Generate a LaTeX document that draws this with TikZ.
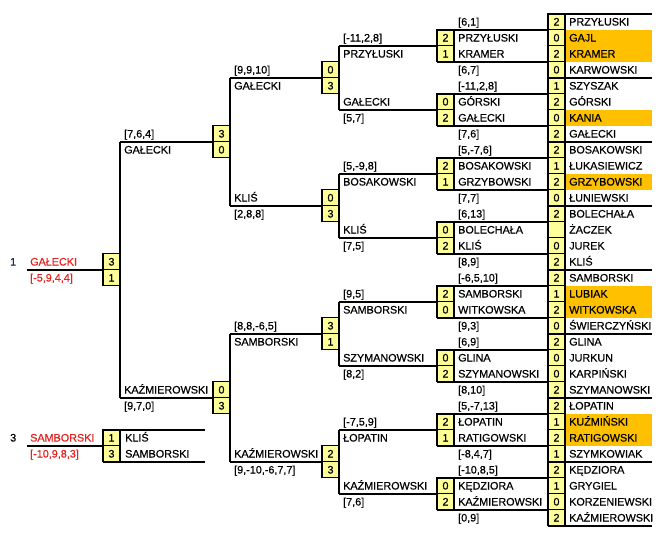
\documentclass[tikz,border=0pt]{standalone}
\usepackage{fontspec}
\setmainfont{Liberation Sans}[FakeBold=0.6]
\newfontfamily\lib{Liberation Sans}[FakeBold=0.6]
\definecolor{boxy}{HTML}{FFFF99}
\definecolor{hl}{HTML}{FFC000}
\definecolor{redt}{HTML}{E52421}
\definecolor{navyt}{HTML}{203060}
\tikzset{
  x=1pt, y=-1pt,
  txt/.style={anchor=west, inner sep=0pt, text height=8pt, text depth=0pt, font=\lib\fontsize{10.8}{12}\selectfont},
  sbox/.style={draw, line width=1.4pt, fill=boxy, minimum width=17pt, minimum height=16pt, inner sep=0pt, text height=8pt, text depth=0pt, font=\lib\fontsize{10.8}{12}\selectfont},
  br/.style={line width=2pt},
}
\begin{document}
\begin{tikzpicture}
\useasboundingbox (0,0) rectangle (661,544);
\fill[white] (0,0) rectangle (661,544);

% orange highlights
\foreach \r in {2,3,7,11,18,19,26,27}
  \fill[hl] (565,{13.5+16*(\r-1)}) rectangle (652,{13.5+16*\r});

% ---------- right column (round 1) ----------
\foreach \s/\n [count=\i] in {2/PRZYŁUSKI,0/GAJL,2/KRAMER,0/KARWOWSKI,1/SZYSZAK,2/GÓRSKI,0/KANIA,2/GAŁECKI,
  2/BOSAKOWSKI,1/ŁUKASIEWICZ,2/GRZYBOWSKI,0/ŁUNIEWSKI,2/BOLECHAŁA,{}/ŻACZEK,0/JUREK,2/KLIŚ,
  2/SAMBORSKI,1/LUBIAK,2/WITKOWSKA,0/ŚWIERCZYŃSKI,2/GLINA,0/JURKUN,0/KARPIŃSKI,2/SZYMANOWSKI,
  2/ŁOPATIN,1/KUŹMIŃSKI,2/RATIGOWSKI,1/SZYMKOWIAK,2/KĘDZIORA,1/GRYGIEL,0/KORZENIEWSKI,2/KAŹMIEROWSKI}{
  \node[sbox] (rb\i) at (556.5,{5.5+16*\i}) {\s};
  \node[txt] (rn\i) at (569,{5.5+16*\i}) {\n};
}

% ---------- C4 (round 2) ----------
\foreach \la/\sa/\na/\sb/\nb/\lb [count=\g from 0] in {
  {[6,1]}/2/PRZYŁUSKI/1/KRAMER/{[6,7]},
  {[-11,2,8]}/0/GÓRSKI/2/GAŁECKI/{[7,6]},
  {[5,-7,6]}/2/BOSAKOWSKI/1/GRZYBOWSKI/{[7,7]},
  {[6,13]}/0/BOLECHAŁA/2/KLIŚ/{[8,9]},
  {[-6,5,10]}/2/SAMBORSKI/0/WITKOWSKA/{[9,3]},
  {[6,9]}/0/GLINA/2/SZYMANOWSKI/{[8,10]},
  {[5,-7,13]}/2/ŁOPATIN/1/RATIGOWSKI/{[-8,4,7]},
  {[-10,8,5]}/0/KĘDZIORA/2/KAŹMIEROWSKI/{[0,9]}}{
  \node[txt] (dl\g) at (458,{5.5+16*(4*\g+1)}) {\la};
  \node[sbox] (dba\g) at (445.5,{5.5+16*(4*\g+2)}) {\sa};
  \node[txt] (dna\g) at (458,{5.5+16*(4*\g+2)}) {\na};
  \node[sbox] (dbb\g) at (445.5,{5.5+16*(4*\g+3)}) {\sb};
  \node[txt] (dnb\g) at (458,{5.5+16*(4*\g+3)}) {\nb};
  \node[txt] (dm\g) at (458,{5.5+16*(4*\g+4)}) {\lb};
  \coordinate (dta\g) at (437,{13.5+16*(4*\g+1)});
  \coordinate (dtb\g) at (548,{13.5+16*(4*\g+1)});
  \coordinate (dua\g) at (437,{13.5+16*(4*\g+3)});
  \coordinate (dub\g) at (548,{13.5+16*(4*\g+3)});
  \coordinate (cl\g) at (339,{13.5+16*(4*\g+2)});
  \coordinate (cr\g) at (437,{13.5+16*(4*\g+2)});
}

% ---------- C3 (quarter-final) texts ----------
\foreach \ta/\tb [count=\g from 0] in {
  {[-11,2,8]}/PRZYŁUSKI, GAŁECKI/{[5,7]}, {[5,-9,8]}/BOSAKOWSKI, KLIŚ/{[7,5]},
  {[9,5]}/SAMBORSKI, SZYMANOWSKI/{[8,2]}, {[-7,5,9]}/ŁOPATIN, KAŹMIEROWSKI/{[7,6]}}{
  \node[txt] (ca\g) at (343,{5.5+16*(4*\g+2)}) {\ta};
  \node[txt] (cb\g) at (343,{5.5+16*(4*\g+3)}) {\tb};
}

% ---------- C2 ----------
\foreach \ta/\sa/\tb/\sb [count=\h from 0] in {
  {[9,9,10]}/0/GAŁECKI/3, KLIŚ/0/{[2,8,8]}/3,
  {[8,8,-6,5]}/3/SAMBORSKI/1, KAŹMIEROWSKI/2/{[9,-10,-6,7,7]}/3}{
  \node[txt] (ba\h) at (234,{5.5+16*(8*\h+4)}) {\ta};
  \node[txt] (bb\h) at (234,{5.5+16*(8*\h+5)}) {\tb};
  \node[sbox] (bxa\h) at (330.5,{5.5+16*(8*\h+4)}) {\sa};
  \node[sbox] (bxb\h) at (330.5,{5.5+16*(8*\h+5)}) {\sb};
  \coordinate (bl\h) at (230,{13.5+16*(8*\h+4)});
  \coordinate (br\h) at (322,{13.5+16*(8*\h+4)});
}

% ---------- C1 ----------
\foreach \ta/\sa/\tb/\sb [count=\m from 0] in {
  {[7,6,4]}/3/GAŁECKI/0, KAŹMIEROWSKI/0/{[9,7,0]}/3}{
  \node[txt] (aa\m) at (124,{5.5+16*(16*\m+8)}) {\ta};
  \node[txt] (ab\m) at (124,{5.5+16*(16*\m+9)}) {\tb};
  \node[sbox] (axa\m) at (221.5,{5.5+16*(16*\m+8)}) {\sa};
  \node[sbox] (axb\m) at (221.5,{5.5+16*(16*\m+9)}) {\sb};
  \coordinate (al\m) at (120,{13.5+16*(16*\m+8)});
  \coordinate (ar\m) at (213,{13.5+16*(16*\m+8)});
}

% ---------- final ----------
\node[txt, text=navyt] (p1) at (10,{5.5+16*16}) {1};
\node[txt, text=redt] (fw) at (30,{5.5+16*16}) {GAŁECKI};
\node[txt, text=redt] (fs) at (30,{5.5+16*17}) {[-5,9,4,4]};
\node[sbox] (fxa) at (111.5,{5.5+16*16}) {3};
\node[sbox] (fxb) at (111.5,{5.5+16*17}) {1};
\coordinate (fl) at (27,{13.5+16*16});
\coordinate (fr) at (103,{13.5+16*16});

% ---------- third place ----------
\node[txt] (p3) at (10,{5.5+16*27}) {3};
\node[txt, text=redt] (tw) at (30,{5.5+16*27}) {SAMBORSKI};
\node[txt, text=redt] (ts) at (30,{5.5+16*28}) {[-10,9,8,3]};
\node[sbox] (txa) at (111.5,{5.5+16*27}) {1};
\node[sbox] (txb) at (111.5,{5.5+16*28}) {3};
\node[txt] (tna) at (125,{5.5+16*27}) {KLIŚ};
\node[txt] (tnb) at (125,{5.5+16*28}) {SAMBORSKI};
\coordinate (tl) at (27,{13.5+16*27});
\coordinate (tr) at (103,{13.5+16*27});
\coordinate (tua) at (103,{13.5+16*26});
\coordinate (tub) at (205,{13.5+16*26});
\coordinate (tva) at (103,{13.5+16*28});
\coordinate (tvb) at (205,{13.5+16*28});

% ---------- lines ----------
\draw[br] (fl) -- (fr);
\draw[br] (tl) -- (tr);
\draw[br] (tua) -- (tub);
\draw[br] (tva) -- (tvb);
\draw[br] (al0) -- (al1);
\foreach \m in {0,1} \draw[br] (al\m) -- (ar\m);
\draw[br] (bl0) -- (bl1);
\draw[br] (bl2) -- (bl3);
\foreach \h in {0,...,3} \draw[br] (bl\h) -- (br\h);
\foreach \g in {0,2,4,6}{
  \pgfmathtruncatemacro\gg{\g+1}
  \draw[br] (cl\g) -- (cl\gg);
}
\foreach \g in {0,...,7}{
  \draw[br] (cl\g) -- (cr\g);
  \draw[br] (dta\g) -- (dtb\g);
  \draw[br] (dua\g) -- (dub\g);
}
\coordinate (vt) at (548,13.5);
\coordinate (vb) at (548,{13.5+16*32});
\draw[br] (vt) -- (vb);
\foreach \q in {0,...,8}{
  \coordinate (ra\q) at (548,{13.5+16*4*\q});
  \coordinate (rz\q) at (652,{13.5+16*4*\q});
  \draw[br] (ra\q) -- (rz\q);
}
\end{tikzpicture}
\end{document}
